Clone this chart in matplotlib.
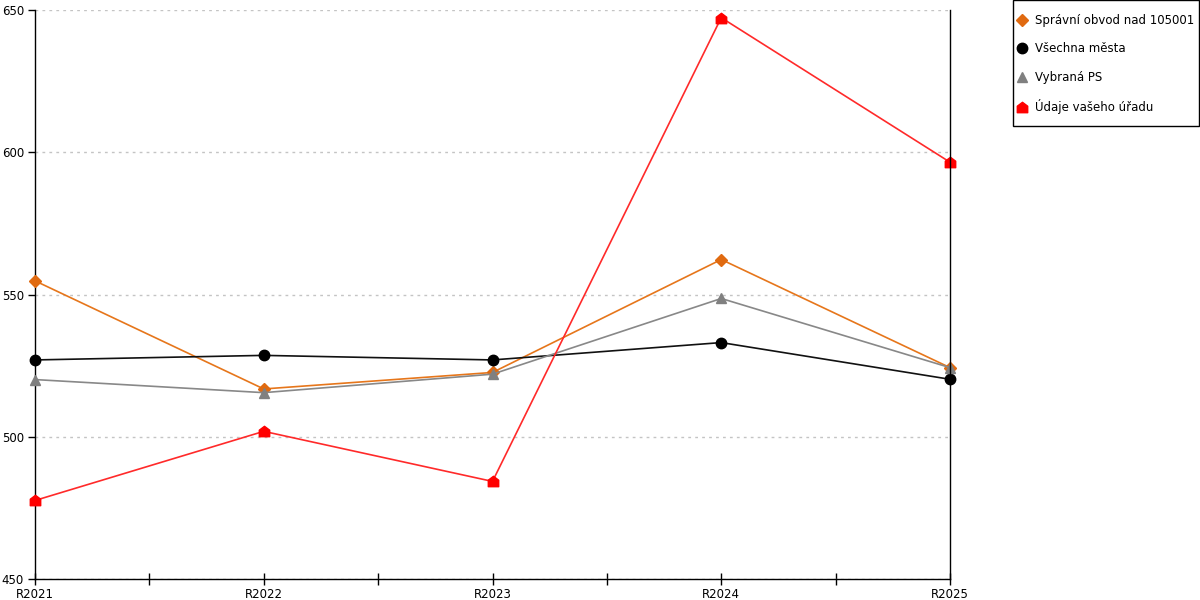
import matplotlib.pyplot as plt
from matplotlib.lines import Line2D
from matplotlib.patches import Rectangle
from matplotlib.path import Path

years = ["R2021", "R2022", "R2023", "R2024", "R2025"]

spravni_obvod = [554.8, 516.8, 522.6, 562.3, 524.3]
vsechna_mesta = [527.0, 528.6, 527.0, 533.1, 520.2]
vybrana_ps = [520.1, 515.5, 522.0, 548.6, 524.3]
vas_urad = [477.6, 501.9, 484.3, 647.3, 596.5]

labels = ["Správní obvod nad 105001", "Všechna města", "Vybraná PS", "Údaje vašeho úřadu"]

# domeček jako značka pro údaje úřadu
house = Path([(-1, -1), (1, -1), (1, 0.25), (0, 1), (-1, 0.25), (-1, -1)],
             [Path.MOVETO, Path.LINETO, Path.LINETO, Path.LINETO, Path.LINETO, Path.CLOSEPOLY])

series = [
    (spravni_obvod, "#e6761b", "#e06a10", "D", 6),
    (vsechna_mesta, "#111111", "#000000", "o", 7.5),
    (vybrana_ps, "#888888", "#808080", "^", 7.5),
    (vas_urad, "#ff2a2a", "#ff0000", house, 7.5),
]

plt.rcParams['font.family'] = ['DejaVu Sans']

fig = plt.figure(figsize=(12, 6), dpi=100)
ax = fig.add_axes([35 / 1200, 21 / 600, 915 / 1200, 569 / 600])

x = list(range(len(years)))
handles = []
for (vals, lc, mc, mk, ms), lab in zip(series, labels):
    ax.plot(x, vals, color=lc, linewidth=1.2, marker=mk, markersize=ms,
            markerfacecolor=mc, markeredgecolor=mc, clip_on=False, zorder=3)
    handles.append(Line2D([], [], linestyle="none", marker=mk, markersize=ms,
                          markerfacecolor=mc, markeredgecolor=mc))

ax.set_xlim(0, len(years) - 1)
ax.set_ylim(450, 650)
ax.set_xticks(x)
ax.set_xticklabels(years)
ax.set_xticks([i + 0.5 for i in x[:-1]], minor=True)
ax.set_yticks([450, 500, 550, 600, 650])

ax.tick_params(axis="x", which="both", direction="inout", length=9, width=1, labelsize=8.5, pad=2)
ax.tick_params(axis="y", direction="out", length=5, width=1, labelsize=8.5, pad=3)

ax.yaxis.grid(True, color="#c4c4c4", linestyle=(0, (2, 3)), linewidth=1)
ax.set_axisbelow(True)

ax.spines["top"].set_visible(False)
for side in ["left", "bottom", "right"]:
    ax.spines[side].set_color("black")
    ax.spines[side].set_linewidth(1)
ax.spines["right"].set_zorder(5)

# rámeček legendy
fig.patches.append(Rectangle((1013 / 1200, 474 / 600), 186 / 1200, 125.5 / 600,
                             transform=fig.transFigure, fill=False,
                             edgecolor="black", linewidth=1))

fig.legend(handles, labels, loc="upper left", bbox_to_anchor=(1017 / 1200, 586 / 600),
           frameon=False, fontsize=8.5, handlelength=0.8, handletextpad=0.75,
           labelspacing=1.3, borderpad=0, borderaxespad=0)

fig.savefig("out.png", dpi=100)
